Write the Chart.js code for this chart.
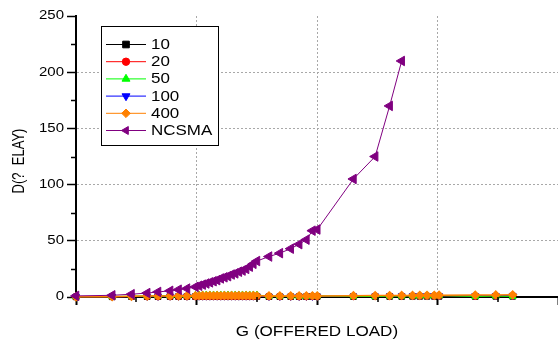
<!DOCTYPE html>
<html>
<head>
<meta charset="utf-8">
<script src="https://cdn.jsdelivr.net/npm/chart.js"></script>
<style>
  body { margin: 0; background: #fff; overflow: hidden; }
  #wrap { width: 565px; height: 343px; }
</style>
</head>
<body>
<div id="wrap"><canvas id="delayChart"></canvas></div>
<script>
// offered load, shared by every series
const G = [0, 0.30, 0.46, 0.59, 0.68, 0.78, 0.85, 0.92, 0.99,
  1.02, 1.05, 1.08, 1.11, 1.14, 1.17, 1.20, 1.23, 1.26, 1.29, 1.32, 1.35, 1.38, 1.41, 1.44, 1.47, 1.50,
  1.60, 1.69, 1.78, 1.85, 1.91, 1.96, 2.00,
  2.30, 2.48, 2.60, 2.70, 2.79, 2.85, 2.91, 2.97, 3.01, 3.31, 3.48, 3.62];

const D10 = [0.1, 0.2, 0.3, 0.3, 0.3, 0.4, 0.4, 0.4, 0.4,
  0.5, 0.5, 0.5, 0.5, 0.5, 0.5, 0.5, 0.5, 0.5, 0.5, 0.5, 0.5, 0.5, 0.5, 0.5, 0.5, 0.5,
  0.3, 0.3, 0.3, 0.3, 0.3, 0.4, 0.4,
  0.4, 0.5, 0.5, 0.5, 0.6, 0.6, 0.6, 0.6, 0.6, 0.5, 0.6, 0.6];
const D20 = [0.2, 0.3, 0.4, 0.5, 0.5, 0.6, 0.6, 0.6, 0.6,
  0.7, 0.7, 0.7, 0.7, 0.7, 0.7, 0.7, 0.7, 0.7, 0.7, 0.7, 0.7, 0.7, 0.7, 0.7, 0.7, 0.7,
  0.5, 0.5, 0.5, 0.5, 0.5, 0.6, 0.6,
  0.7, 0.8, 0.8, 0.9, 0.9, 0.9, 1.0, 1.0, 1.0, 0.7, 0.9, 1.0];
const D50 = [0.3, 0.4, 0.8, 1.0, 1.1, 1.2, 1.3, 1.4, 1.5,
  1.8, 1.8, 1.8, 1.8, 1.8, 1.8, 1.8, 1.8, 1.8, 1.8, 1.8, 1.8, 1.8, 1.8, 1.8, 1.8, 1.8,
  0.8, 0.8, 0.8, 0.8, 0.8, 0.9, 1.0,
  0.6, 0.4, 0.8, 0.8, 1.0, 1.0, 1.1, 1.1, 1.2, 0.5, 0.8, 0.5];
const D100 = [0.3, 0.3, 0.4, 0.5, 0.5, 0.6, 0.6, 0.6, 0.6,
  0.7, 0.7, 0.7, 0.7, 0.7, 0.7, 0.7, 0.7, 0.7, 0.7, 0.7, 0.7, 0.7, 0.7, 0.7, 0.7, 0.7,
  0.4, 0.4, 0.4, 0.4, 0.4, 0.5, 0.6,
  0.8, 0.9, 0.9, 1.0, 1.0, 1.0, 1.1, 1.1, 1.1, 1.2, 1.3, 1.4];
const D400 = [0.2, 0.3, 0.6, 0.8, 0.9, 1.0, 1.0, 1.0, 1.0,
  1.1, 1.2, 1.1, 1.2, 1.1, 1.2, 1.1, 1.2, 1.1, 1.2, 1.1, 1.2, 1.1, 1.2, 1.1, 1.2, 1.1,
  1.0, 1.0, 1.0, 1.0, 1.0, 1.1, 1.0,
  1.2, 1.3, 1.3, 1.4, 1.4, 1.5, 1.5, 1.5, 1.6, 1.7, 1.8, 1.9];
const NCSMA = [1, 1.5, 2.5, 3.5, 4.5, 5.5, 6.5, 7.5, 9,
  10, 11, 12, 13, 14, 15, 16.5, 17.5, 18.5, 20, 21, 22.5, 23.5, 25, 27, 29.5, 32,
  36, 39, 43, 47, 51, 59, 60,
  105, 125, 170, 210];

const Y_TICKS = [0, 50, 100, 150, 200, 250];
const Y_MINOR = [25, 75, 125, 175, 225];
const X_MINOR = [0.5, 1.5, 2.5, 3.5];
const X_TITLE = 'G (OFFERED LOAD)';
const Y_TITLE = 'D(?  ELAY)';

function toPoints(vals) {
  return vals.map((v, i) => ({ x: G[i], y: v }));
}

const FONT = '"Liberation Sans", Arial, sans-serif';

// axis labels, minor ticks, titles and the boxed legend
const extras = {
  id: 'extras',
  afterDraw(chart) {
    const ctx = chart.ctx;
    const xs = chart.scales.x, ys = chart.scales.y;
    const area = chart.chartArea;

    ctx.save();
    ctx.strokeStyle = '#000';
    ctx.lineWidth = 1.5;
    Y_MINOR.forEach(v => {
      const py = Math.round(ys.getPixelForValue(v)) + 0.5;
      ctx.beginPath(); ctx.moveTo(area.left - 5, py); ctx.lineTo(area.left, py); ctx.stroke();
    });
    X_MINOR.forEach(v => {
      const px = Math.round(xs.getPixelForValue(v));
      ctx.beginPath(); ctx.moveTo(px, area.bottom); ctx.lineTo(px, area.bottom + 5); ctx.stroke();
    });

    ctx.fillStyle = '#000';
    ctx.font = '12.5px ' + FONT;
    ctx.textAlign = 'right';
    ctx.textBaseline = 'middle';
    Y_TICKS.forEach(v => {
      ctx.save();
      ctx.translate(area.left - 12, ys.getPixelForValue(v));
      ctx.scale(1.2, 1);
      ctx.fillText(String(v), 0, 0);
      ctx.restore();
    });

    ctx.font = '14px ' + FONT;
    ctx.textAlign = 'center';
    ctx.save();
    ctx.translate(317, 332);
    ctx.scale(1.22, 1);
    ctx.fillText(X_TITLE, 0, 0);
    ctx.restore();

    ctx.font = '13px ' + FONT;
    ctx.save();
    ctx.translate(20, 161);
    ctx.rotate(-Math.PI / 2);
    ctx.scale(1, 1.2);
    ctx.fillText(Y_TITLE, 0, 0);
    ctx.restore();

    // legend box
    ctx.fillStyle = '#fff';
    ctx.fillRect(101, 27, 117, 119);
    ctx.strokeStyle = '#000';
    ctx.lineWidth = 1;
    ctx.strokeRect(101.5, 26.5, 117, 119);
    ctx.font = '14.5px ' + FONT;
    ctx.textAlign = 'left';
    chart.data.datasets.forEach((ds, i) => {
      const ry = 44.5 + i * 17.2;
      ctx.strokeStyle = ds.borderColor;
      ctx.lineWidth = 1;
      ctx.beginPath(); ctx.moveTo(106, ry); ctx.lineTo(146, ry); ctx.stroke();
      ctx.fillStyle = ds.borderColor;
      Chart.helpers.drawPoint(ctx, {
        pointStyle: ds.pointStyle, rotation: ds.pointRotation || 0,
        radius: ds.legendRadius, borderWidth: 1
      }, 126, ry);
      ctx.fillStyle = '#000';
      ctx.save();
      ctx.translate(151, ry + 0.5);
      ctx.scale(1.17, 1);
      ctx.fillText(ds.label, 0, 0);
      ctx.restore();
    });
    ctx.restore();
  }
};

new Chart(document.getElementById('delayChart'), {
  type: 'line',
  data: {
    datasets: [
      { label: '10', data: toPoints(D10), borderColor: '#000000', backgroundColor: '#000000',
        pointStyle: 'rect', pointRadius: 4, legendRadius: 4.7, borderWidth: 1, order: 5 },
      { label: '20', data: toPoints(D20), borderColor: '#ff0000', backgroundColor: '#ff0000',
        pointStyle: 'circle', pointRadius: 3.3, legendRadius: 3.7, borderWidth: 1, order: 4 },
      { label: '50', data: toPoints(D50), borderColor: '#00ff00', backgroundColor: '#00ff00',
        pointStyle: 'triangle', pointRadius: 4, legendRadius: 4.6, borderWidth: 1, order: 2 },
      { label: '100', data: toPoints(D100), borderColor: '#0000ff', backgroundColor: '#0000ff',
        pointStyle: 'triangle', pointRotation: 180, pointRadius: 4, legendRadius: 4.6, borderWidth: 1, order: 3 },
      { label: '400', data: toPoints(D400), borderColor: '#ff8000', backgroundColor: '#ff8000',
        pointStyle: 'rectRot', pointRadius: 3.8, legendRadius: 4.3, borderWidth: 1.5, order: 1 },
      { label: 'NCSMA', data: toPoints(NCSMA), borderColor: '#800080', backgroundColor: '#800080',
        pointStyle: 'triangle', pointRotation: -90, pointRadius: 5.5, legendRadius: 4.6, borderWidth: 1, order: 0 }
    ]
  },
  options: {
    responsive: true,
    maintainAspectRatio: false,
    animation: false,
    layout: { padding: { left: 67, top: 16, right: 0, bottom: 38 } },
    elements: { line: { tension: 0 }, point: { hoverRadius: 5 } },
    datasets: { line: { clip: false } },
    plugins: { legend: { display: false }, tooltip: { enabled: false } },
    scales: {
      x: {
        type: 'linear', min: 0, max: 4,
        ticks: { display: false, stepSize: 1 },
        grid: {
          color: c => (c.tick && c.tick.value > 0 && c.tick.value < 4) ? '#a8a8a8' : 'rgba(0,0,0,0)',
          lineWidth: 1, tickLength: 8, tickColor: '#000', tickWidth: 2
        },
        border: { color: '#000', width: 2, dash: [2, 2] }
      },
      y: {
        min: 0, max: 250,
        ticks: { display: false, stepSize: 50 },
        grid: {
          color: c => (c.tick && c.tick.value > 0 && c.tick.value < 250) ? '#a8a8a8' : 'rgba(0,0,0,0)',
          lineWidth: 1, tickLength: 9, tickColor: '#000', tickWidth: 1.5
        },
        border: { color: '#000', width: 2, dash: [2, 2] }
      }
    }
  },
  plugins: [extras]
});
</script>
</body>
</html>
